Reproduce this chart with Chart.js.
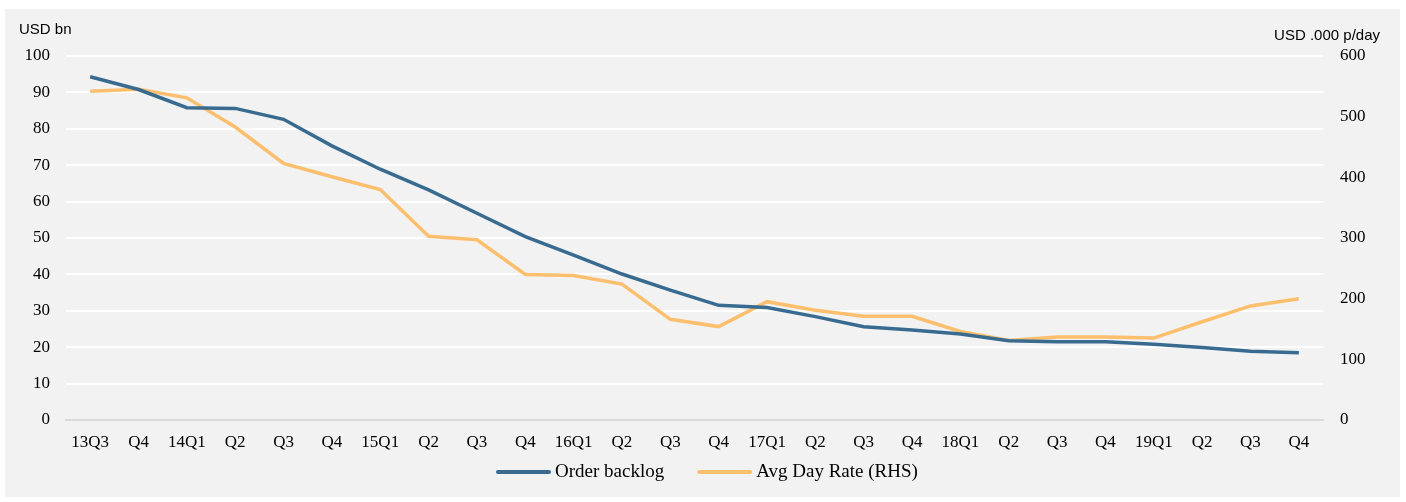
<!DOCTYPE html>
<html>
<head>
<meta charset="utf-8">
<script src="https://cdn.jsdelivr.net/npm/chart.js@4/dist/chart.umd.min.js"></script>
<style>
html,body{margin:0;padding:0;background:#ffffff;}
#wrap{width:1406px;height:502px;position:relative;}
</style>
</head>
<body>
<div id="wrap"><canvas id="c" width="1406" height="502"></canvas></div>
<script>
const categories = ["13Q3","Q4","14Q1","Q2","Q3","Q4","15Q1","Q2","Q3","Q4","16Q1","Q2","Q3","Q4","17Q1","Q2","Q3","Q4","18Q1","Q2","Q3","Q4","19Q1","Q2","Q3","Q4"];
const orderBacklog = [94.3,90.8,85.8,85.6,82.6,75.3,68.9,63.2,56.8,50.4,45.3,40.1,35.7,31.5,30.9,28.4,25.6,24.7,23.6,21.8,21.5,21.5,20.8,19.9,18.9,18.5];
const avgDayRate = [542,545,531,483,423,401,380,303,297,240,238,224,166,154,195,181,171,171,146,131,137,137,135,162,188,200];
const leftTicks = [0,10,20,30,40,50,60,70,80,90,100];
const rightTicks = [0,100,200,300,400,500,600];
const seriesNames = ["Order backlog","Avg Day Rate (RHS)"];
const leftTitle = "USD bn";
const rightTitle = "USD .000 p/day";

const BLUE = "#386b8f";
const ORANGE = "#fcbf6e";
const SERIF = "'Liberation Serif','DejaVu Serif',serif";
const SANS = "'Liberation Sans',Arial,sans-serif";

const bgPlugin = {
  id:'bg',
  beforeDraw(chart){
    const ctx = chart.ctx;
    ctx.save();
    ctx.fillStyle = '#f2f2f2';
    ctx.fillRect(5,9,1395,488);
    ctx.restore();
  },
  afterDraw(chart){
    const ctx = chart.ctx;
    ctx.save();
    ctx.fillStyle = '#000000';
    ctx.font = "15px " + SANS;
    ctx.textBaseline = 'middle';
    ctx.textAlign = 'left';
    ctx.fillText(leftTitle, 19, 30);
    ctx.textAlign = 'right';
    ctx.fillText(rightTitle, 1380, 36);
    // legend
    ctx.font = "19px " + SERIF;
    ctx.textAlign = 'left';
    const lineW = 55, gapText = 4, gapItem = 33, ly = 472;
    const items = chart.data.datasets.map(d => ({text:d.label, color:d.borderColor, w: ctx.measureText(d.label).width}));
    const total = items.reduce((s,it)=>s+lineW+gapText+it.w,0) + gapItem*(items.length-1);
    let x = Math.round(706.5 - total/2);
    items.forEach(it => {
      ctx.strokeStyle = it.color;
      ctx.lineWidth = 4;
      ctx.lineCap = 'round';
      ctx.beginPath();
      ctx.moveTo(x+2, ly);
      ctx.lineTo(x+lineW-2, ly);
      ctx.stroke();
      ctx.fillStyle = '#000000';
      ctx.fillText(it.text, x+lineW+gapText, ly);
      x += lineW + gapText + it.w + gapItem;
    });
    ctx.restore();
  }
};

new Chart(document.getElementById('c'), {
  type:'line',
  data:{
    labels: categories,
    datasets:[
      {label: seriesNames[0], data: orderBacklog, yAxisID:'y', borderColor: BLUE, backgroundColor: BLUE, borderWidth:3.5, pointRadius:0, tension:0, order:1},
      {label: seriesNames[1], data: avgDayRate, yAxisID:'y1', borderColor: ORANGE, backgroundColor: ORANGE, borderWidth:3.5, pointRadius:0, tension:0, order:2}
    ]
  },
  options:{
    responsive:false,
    animation:false,
    devicePixelRatio:1,
    layout:{padding:{left:10,right:0,top:56,bottom:42}},
    plugins:{
      legend:{display:false},
      tooltip:{enabled:false}
    },
    scales:{
      x:{
        offset:true,
        afterFit(s){ s.height = 40; },
        grid:{display:false,drawTicks:false},
        border:{display:true,color:'#d9d9d9',width:2},
        ticks:{color:'#000',font:{family:SERIF,size:17},padding:12,maxRotation:0,autoSkip:false}
      },
      y:{
        position:'left',
        min:0,max:100,
        afterBuildTicks(s){ s.ticks = leftTicks.map(v=>({value:v})); },
        afterFit(s){ s.width = 56; },
        grid:{color:'#ffffff',lineWidth:2,drawTicks:false},
        border:{display:false},
        ticks:{color:'#000',font:{family:SERIF,size:17},padding:16}
      },
      y1:{
        position:'right',
        min:0,max:600,
        afterBuildTicks(s){ s.ticks = rightTicks.map(v=>({value:v})); },
        afterFit(s){ s.width = 83; },
        grid:{display:false,drawTicks:false},
        border:{display:false},
        ticks:{color:'#000',font:{family:SERIF,size:17},padding:17}
      }
    }
  },
  plugins:[bgPlugin]
});
</script>
</body>
</html>
